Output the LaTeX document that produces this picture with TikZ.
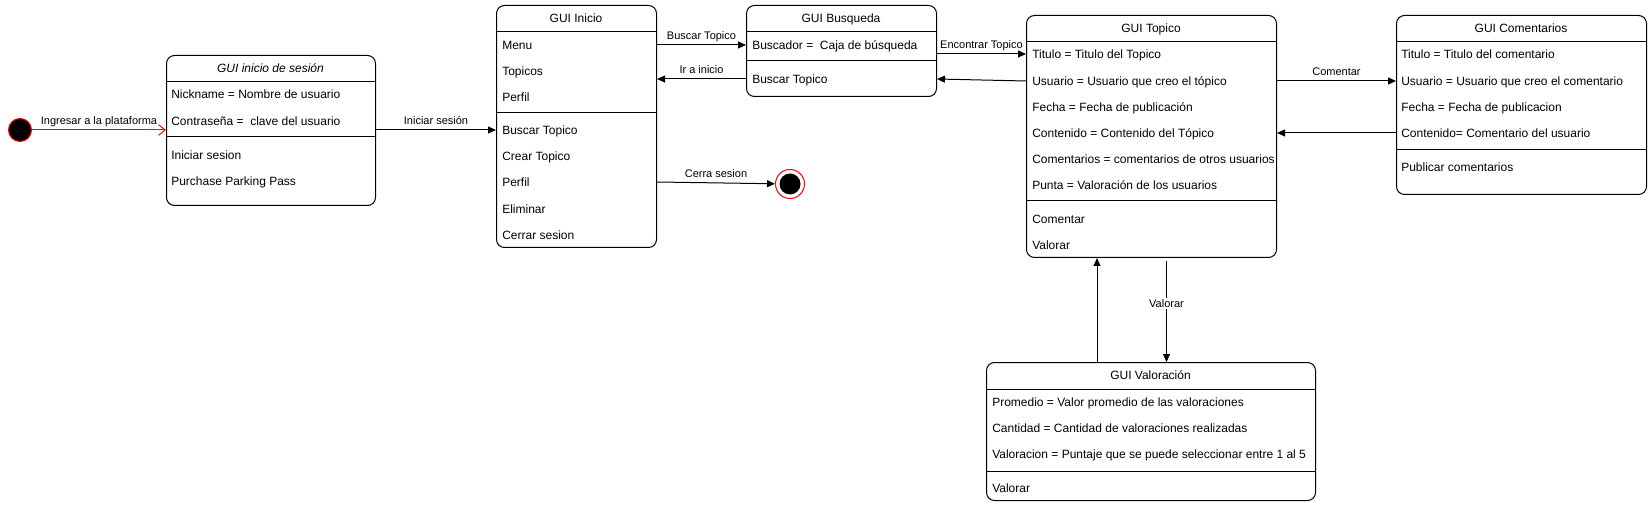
\documentclass[tikz,border=0pt]{standalone}
\usepackage{fontspec}
\setmainfont{Liberation Sans}
\usetikzlibrary{arrows.meta,calc}
\begin{document}
\begin{tikzpicture}[x=0.75pt,y=-0.75pt,
  box/.style={draw, line width=0.75pt, rounded corners=6pt, fill=white, anchor=north west, inner sep=0},
  sep/.style={line width=0.75pt},
  row/.style={anchor=west, inner sep=0, text height=6.4pt, text depth=0pt, font=\fontsize{9}{11}\selectfont},
  ttl/.style={anchor=center, inner sep=0, text height=6.4pt, text depth=0pt, font=\fontsize{9}{11}\selectfont},
  lab/.style={anchor=base, yshift=4pt, inner sep=0, font=\fontsize{8.25}{10}\selectfont},
  arr/.style={line width=0.75pt, -{Triangle[length=6pt,width=5.25pt]}},
  redarr/.style={line width=0.75pt, draw=red, -{Straight Barb[length=5pt,width=8pt]}}
]
\useasboundingbox (0,0) rectangle (1651,509);

% ---- initial and final states
\node[circle, draw=red, fill=black, line width=0.75pt, minimum size=23*0.75pt, inner sep=0] (init) at (20,130) {};
\node[circle, draw=red, fill=white, line width=0.75pt, minimum size=29*0.75pt, inner sep=0] (final) at (790,184) {};
\node[circle, fill=black, minimum size=21*0.75pt, inner sep=0] (finalin) at (final) {};

% ---- GUI inicio de sesion
\node[box, minimum width=209*0.75pt, minimum height=150*0.75pt] (login) at (166,55) {};
\node[ttl, font=\fontsize{9}{11}\selectfont\itshape] (loginT) at (270.5,68.5) {GUI inicio de sesión};
\draw[sep] (166,82) -- (375,82);
\node[row] (lNick) at (171,94) {Nickname = Nombre de usuario};
\node[row] (lPass) at (171,121) {Contraseña =\ \ clave del usuario};
\draw[sep] (166,137) -- (375,137);
\node[row] (lIni) at (171,155) {Iniciar sesion};
\node[row] (lPur) at (171,181) {Purchase Parking Pass};

% ---- GUI Inicio
\node[box, minimum width=160*0.75pt, minimum height=242*0.75pt] (inicio) at (496,5) {};
\node[ttl] (inicioT) at (576,18.5) {GUI Inicio};
\draw[sep] (496,32) -- (656,32);
\node[row] (iMenu) at (502,45) {Menu};
\node[row] (iTop) at (502,71) {Topicos};
\node[row] (iPer) at (502,97) {Perfil};
\draw[sep] (496,113) -- (656,113);
\node[row] (iBus) at (502,130) {Buscar Topico};
\node[row] (iCre) at (502,156) {Crear Topico};
\node[row] (iPer2) at (502,182) {Perfil};
\node[row] (iEli) at (502,209) {Eliminar};
\node[row] (iCer) at (502,235) {Cerrar sesion};

% ---- GUI Busqueda
\node[box, minimum width=190*0.75pt, minimum height=91*0.75pt] (busq) at (746,5) {};
\node[ttl] (busqT) at (841,18.5) {GUI Busqueda};
\draw[sep] (746,32) -- (936,32);
\node[row] (bBus) at (752,45) {Buscador =\ \ Caja de búsqueda};
\draw[sep] (746,61) -- (936,61);
\node[row] (bTop) at (752,79) {Buscar Topico};

% ---- GUI Topico
\node[box, minimum width=250*0.75pt, minimum height=242*0.75pt] (topico) at (1026,15) {};
\node[ttl] (topicoT) at (1151,28.5) {GUI Topico};
\draw[sep] (1026,42) -- (1276,42);
\node[row] (tTit) at (1032,54) {Titulo = Titulo del Topico};
\node[row] (tUsu) at (1032,81) {Usuario = Usuario que creo el tópico};
\node[row] (tFec) at (1032,107) {Fecha = Fecha de publicación};
\node[row] (tCon) at (1032,133) {Contenido = Contenido del Tópico};
\node[row] (tCom) at (1032,159) {Comentarios = comentarios de otros usuarios};
\node[row] (tPun) at (1032,185) {Punta = Valoración de los usuarios};
\draw[sep] (1026,201) -- (1276,201);
\node[row] (tCmt) at (1032,219) {Comentar};
\node[row] (tVal) at (1032,245) {Valorar};

% ---- GUI Comentarios
\node[box, minimum width=250*0.75pt, minimum height=179*0.75pt] (coment) at (1396,15) {};
\node[ttl] (comentT) at (1521,28.5) {GUI Comentarios};
\draw[sep] (1396,42) -- (1646,42);
\node[row] (cTit) at (1401,54) {Titulo = Titulo del comentario};
\node[row] (cUsu) at (1401,81) {Usuario = Usuario que creo el comentario};
\node[row] (cFec) at (1401,107) {Fecha = Fecha de publicacion};
\node[row] (cCon) at (1401,133) {Contenido= Comentario del usuario};
\draw[sep] (1396,150) -- (1646,150);
\node[row] (cPub) at (1401,167) {Publicar comentarios};

% ---- GUI Valoracion
\node[box, minimum width=329*0.75pt, minimum height=138*0.75pt] (valor) at (986,362) {};
\node[ttl] (valorT) at (1150.5,375.5) {GUI Valoración};
\draw[sep] (986,389) -- (1315,389);
\node[row] (vPro) at (992,402) {Promedio = Valor promedio de las valoraciones};
\node[row] (vCan) at (992,428) {Cantidad = Cantidad de valoraciones realizadas};
\node[row] (vVal) at (992,454) {Valoracion = Puntaje que se puede seleccionar entre 1 al 5};
\draw[sep] (986,471) -- (1315,471);
\node[row] (vVlr) at (992,488) {Valorar};

% ---- connectors
\draw[redarr] (init) -- node[lab, text=black]{Ingresar a la plataforma} (login.west |- init);
\draw[arr] (login.east |- iBus) -- node[lab]{Iniciar sesión} (inicio.west |- iBus);
\draw[arr] (inicio.east |- iMenu) -- node[lab]{Buscar Topico} (busq.west |- iMenu);
\draw[arr] (busq.west |- bTop) -- node[lab]{Ir a inicio} (inicio.east |- bTop);
\draw[arr] (inicio.east |- iPer2) -- node[lab]{Cerra sesion} (final);
\draw[arr] (busq.east |- tTit) -- node[lab]{Encontrar Topico} (topico.west |- tTit);
\draw[arr] (topico.west |- tUsu) -- (busq.east |- bTop);
\draw[arr] (topico.east |- cUsu) -- node[lab]{Comentar} (coment.west |- cUsu);
\draw[arr] (coment.west |- cCon) -- (topico.east |- cCon);
\coordinate (vdTop) at ([xshift=11.25pt, yshift=-2.25pt]topico.south);
\draw[arr] (vdTop) -- node[pos=0.42, anchor=center, fill=white, inner sep=1pt, font=\fontsize{8.25}{10}\selectfont]{Valorar} (vdTop |- valor.north);
\coordinate (vuBot) at ([xshift=-40.5pt]valor.north);
\draw[arr] (vuBot) -- (vuBot |- topico.south);
\end{tikzpicture}
\end{document}
